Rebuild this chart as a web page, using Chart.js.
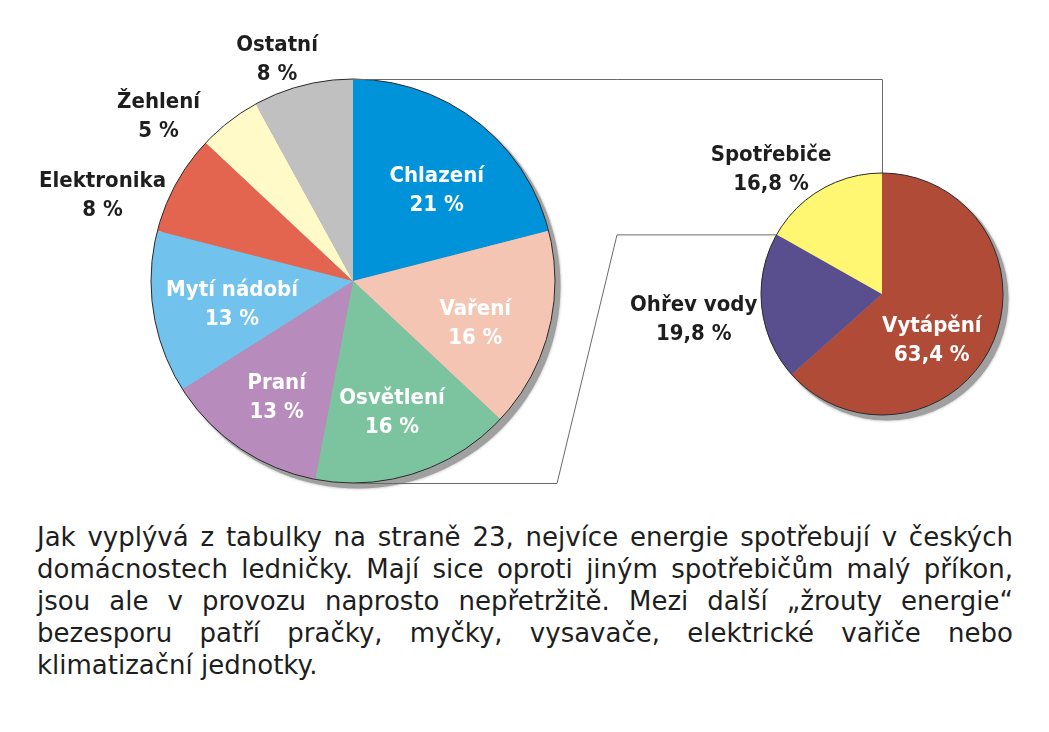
<!DOCTYPE html>
<html>
<head>
<meta charset="utf-8">
<script src="https://cdn.jsdelivr.net/npm/chart.js@4.4.1/dist/chart.umd.min.js"></script>
<style>
  body { margin: 0; background: #fff; }
  #wrap { position: relative; width: 1049px; height: 732px; overflow: hidden; }
  #wrap canvas { position: absolute; left: 0; top: 0; }
  #txt {
    position: absolute; left: 37px; top: 521px; width: 976px;
    font-family: "DejaVu Sans", sans-serif; font-size: 26px; line-height: 32px; color: #1e1e1e;
  }
  #txt div { text-align: justify; text-align-last: justify; white-space: nowrap; }
  #txt div.last { text-align-last: left; }
</style>
</head>
<body>
<div id="wrap">
  <canvas id="pieMain" width="1049" height="500"></canvas>
  <canvas id="pieHeat" width="1049" height="500"></canvas>
  <div id="txt">
    <div>Jak vyplývá z tabulky na straně 23, nejvíce energie spotřebují v českých</div>
    <div>domácnostech ledničky. Mají sice oproti jiným spotřebičům malý příkon,</div>
    <div>jsou ale v provozu naprosto nepřetržitě. Mezi další „žrouty energie“</div>
    <div>bezesporu patří pračky, myčky, vysavače, elektrické vařiče nebo</div>
    <div class="last">klimatizační jednotky.</div>
  </div>
</div>
<script>
// left pie - spotreba elektriny
var mainLabels = ["Chlazení", "Vaření", "Osvětlení", "Praní", "Mytí nádobí", "Elektronika", "Žehlení", "Ostatní"];
var mainValues = [21, 16, 16, 13, 13, 8, 5, 8];
var mainColors = ["#0093d9", "#f5c5b3", "#7cc49f", "#b78bbb", "#72c2ee", "#e4654f", "#fffac8", "#c0c0c0"];

// right pie - celkova spotreba energie
var heatLabels = ["Vytápění", "Ohřev vody", "Spotřebiče"];
var heatValues = [63.4, 19.8, 16.8];
var heatColors = ["#b04b38", "#5a4f8e", "#fff671"];

// label placement: [radius factor, angle shift in deg, inside(white)]
var mainPlace = [[0.61, 5, 1], [0.64, 4.5, 1], [0.68, 1.5, 1], [0.69, -1, 1], [0.61, -2, 1],
                 [1.31, -10, 0], [1.26, -12, 0], [1.16, -4.5, 0]];
var heatPlace = [[0.56, 18.5, 1], [1.57, -1.5, 0], [1.38, -11.4, 0]];

var labelFont = 'bold 22px "DejaVu Sans Condensed", "DejaVu Sans", sans-serif';

function fmt(v){
  return String(v).replace(".", ",") + " %";
}

function pieGeom(chart){
  var arc = chart.getDatasetMeta(0).data[0];
  return { x: arc.x, y: arc.y, r: arc.outerRadius };
}

var pieDeco = {
  id: "pieDeco",
  beforeDatasetsDraw: function(chart){
    var g = pieGeom(chart), ctx = chart.ctx;
    ctx.save();
    ctx.shadowColor = "rgba(0,0,0,0.35)";
    ctx.shadowBlur = 3;
    ctx.fillStyle = "#a0a0a0";
    ctx.beginPath();
    ctx.arc(g.x + 5, g.y + 5, g.r + 0.5, 0, Math.PI*2);
    ctx.fill();
    ctx.restore();
  },
  afterDatasetsDraw: function(chart){
    var g = pieGeom(chart), ctx = chart.ctx;
    ctx.save();
    ctx.strokeStyle = "#2a2a2a";
    ctx.lineWidth = 1;
    ctx.beginPath();
    ctx.arc(g.x, g.y, g.r, 0, Math.PI*2);
    ctx.stroke();

    var place = chart.options.plugins.pieDeco.place;
    var names = chart.data.labels;
    var vals = chart.data.datasets[0].data;
    ctx.font = labelFont;
    ctx.textAlign = "center";
    ctx.textBaseline = "middle";
    chart.getDatasetMeta(0).data.forEach(function(a, i){
      var p = place[i];
      var mid = (a.startAngle + a.endAngle)/2 + p[1]*Math.PI/180;
      var lx = g.x + Math.cos(mid)*g.r*p[0];
      var ly = g.y + Math.sin(mid)*g.r*p[0];
      ctx.fillStyle = p[2] ? "#ffffff" : "#1e1e1e";
      ctx.fillText(names[i], lx, ly - 14);
      ctx.fillText(fmt(vals[i]), lx, ly + 15);
    });
    ctx.restore();
  }
};

function pieConfig(labels, values, colors, radius, pad, place){
  return {
    type: "pie",
    data: {
      labels: labels,
      datasets: [{
        data: values,
        backgroundColor: colors,
        borderWidth: 0,
        hoverOffset: 0,
        radius: radius
      }]
    },
    options: {
      responsive: false,
      animation: false,
      events: [],
      layout: { padding: pad },
      plugins: {
        legend: { display: false },
        tooltip: { enabled: false },
        pieDeco: { place: place }
      }
    },
    plugins: [pieDeco]
  };
}

var mainChart = new Chart(document.getElementById("pieMain"),
  pieConfig(mainLabels, mainValues, mainColors, 202,
    { left: 151, right: 494, top: 79, bottom: 17 }, mainPlace));

// connector lines from the big pie to the small one
var connectors = {
  id: "connectors",
  beforeDatasetsDraw: function(chart){
    var L = pieGeom(mainChart), R = pieGeom(chart), ctx = chart.ctx;
    var a = chart.getDatasetMeta(0).data[1].endAngle;
    var ex = R.x + Math.cos(a)*R.r, ey = R.y + Math.sin(a)*R.r;
    ctx.save();
    ctx.strokeStyle = "#6a6a6a";
    ctx.lineWidth = 1;
    ctx.beginPath();
    ctx.moveTo(L.x, L.y - L.r + 0.5);
    ctx.lineTo(R.x + 0.5, L.y - L.r + 0.5);
    ctx.lineTo(R.x + 0.5, R.y - R.r);
    ctx.moveTo(L.x, L.y + L.r + 0.5);
    ctx.lineTo(557, L.y + L.r + 0.5);
    ctx.lineTo(617, ey + 0.5);
    ctx.lineTo(ex, ey + 0.5);
    ctx.stroke();
    ctx.restore();
  }
};

var heatCfg = pieConfig(heatLabels, heatValues, heatColors, 121,
  { left: 761, right: 46, top: 173, bottom: 85 }, heatPlace);
heatCfg.plugins = [connectors, pieDeco];
var heatChart = new Chart(document.getElementById("pieHeat"), heatCfg);
</script>
</body>
</html>
